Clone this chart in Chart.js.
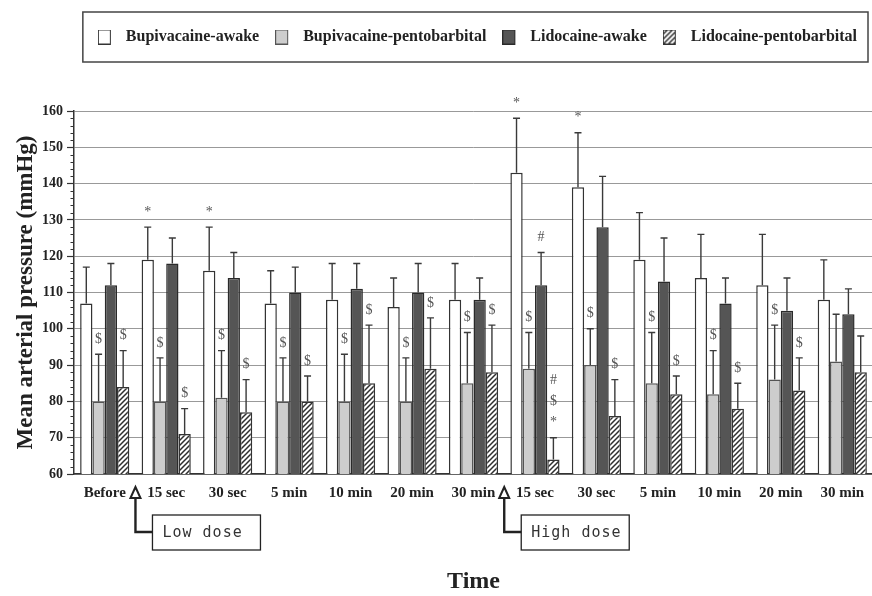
<!DOCTYPE html>
<html>
<head>
<meta charset="utf-8">
<script src="https://cdn.jsdelivr.net/npm/chart.js@4.4.1/dist/chart.umd.min.js"></script>
<style>
  html, body { margin: 0; padding: 0; background: #fff; overflow: hidden; }
  #wrap { width: 872px; height: 596px; overflow: hidden; }
</style>
</head>
<body>
<div id="wrap"><canvas id="mapChart" width="880" height="596"></canvas></div>
<script>
const timeLabels = ["Before", "15 sec", "30 sec", "5 min", "10 min", "20 min", "30 min",
  "15 sec", "30 sec", "5 min", "10 min", "20 min", "30 min"];
const seriesNames = ["Bupivacaine-awake", "Bupivacaine-pentobarbital", "Lidocaine-awake", "Lidocaine-pentobarbital"];

// mean arterial pressure (mmHg) and SD
const bupiAwake = [107, 119, 116, 107, 108, 106, 108, 143, 139, 119, 114, 112, 108];
const bupiAwakeSd = [10, 9, 12, 9, 10, 8, 10, 15, 15, 13, 12, 14, 11];
const bupiPento = [80, 80, 81, 80, 80, 80, 85, 89, 90, 85, 82, 86, 91];
const bupiPentoSd = [13, 12, 13, 12, 13, 12, 14, 10, 10, 14, 12, 15, 13];
const lidoAwake = [112, 118, 114, 110, 111, 110, 108, 112, 128, 113, 107, 105, 104];
const lidoAwakeSd = [6, 7, 7, 7, 7, 8, 6, 9, 14, 12, 7, 9, 7];
const lidoPento = [84, 71, 77, 80, 85, 89, 88, 64, 76, 82, 78, 83, 88];
const lidoPentoSd = [10, 7, 9, 7, 16, 14, 13, 6, 10, 5, 7, 9, 10];

// significance marks, stacked bottom-up
const bupiAwakeMarks = ["", "*", "*", "", "", "", "", "*", "*", "", "", "", ""];
const bupiPentoMarks = ["$", "$", "$", "$", "$", "$", "$", "$", "$", "$", "$", "$", ""];
const lidoAwakeMarks = ["", "", "", "", "", "", "", "#", "", "", "", "", ""];
const lidoPentoMarks = ["$", "$", "$", "$", "$", "$", "$", "*$#", "$", "$", "$", "$", ""];

const doseStart = [1, 7];
const doseNames = ["Low dose", "High dose"];

const serif = '"Liberation Serif", "Times New Roman", serif';
const ink = "#222";

const canvas = document.getElementById("mapChart");
const ctx0 = canvas.getContext("2d");

//diagonal hatch for the last series
const hatch = () => {
  const c = document.createElement("canvas");
  c.width = 5;
  c.height = 5;
  const g = c.getContext("2d");
  g.fillStyle = "#fff";
  g.fillRect(0, 0, 5, 5);
  g.strokeStyle = "#2e2e2e";
  g.lineWidth = 1.5;
  g.beginPath();
  g.moveTo(0, 5); g.lineTo(5, 0);
  g.moveTo(-1, 1); g.lineTo(1, -1);
  g.moveTo(4, 6); g.lineTo(6, 4);
  g.stroke();
  return ctx0.createPattern(c, "repeat");
};

const fills = ["#ffffff", "#cdcdcd", "#555555", hatch()];
const borders = ["#333", "#555", "#2a2a2a", "#333"];

// legend swatch with some empty room on the right
const swatch = (fill, border) => {
  const c = document.createElement("canvas");
  c.width = 20;
  c.height = 15;
  const g = c.getContext("2d");
  g.fillStyle = fill;
  g.fillRect(0.5, 0.5, 12, 14);
  g.strokeStyle = border;
  g.lineWidth = 1;
  g.strokeRect(0.5, 0.5, 12, 14);
  return c;
};
const swatches = fills.map((f, i) => swatch(f, borders[i]));

const means = [bupiAwake, bupiPento, lidoAwake, lidoPento];
const sds = [bupiAwakeSd, bupiPentoSd, lidoAwakeSd, lidoPentoSd];
const marks = [bupiAwakeMarks, bupiPentoMarks, lidoAwakeMarks, lidoPentoMarks];

const legendSpace = {
  id: "legendSpace",
  beforeInit(chart) {
    const fit = chart.legend.fit;
    chart.legend.fit = function () {
      fit.call(this);
      this.height = 98;
    };
  },
  afterDraw(chart) {
    const hb = chart.legend.legendHitBoxes;
    if (!hb || !hb.length) return;
    const last = hb[hb.length - 1];
    const l = hb[0].left - 15;
    const r = last.left + last.width + 11;
    const t = chart.legend.top - 1;
    const { ctx } = chart;
    ctx.save();
    ctx.strokeStyle = "#444";
    ctx.lineWidth = 1.5;
    ctx.strokeRect(l, t, r - l, 50);
    ctx.restore();
  },
};

const errorBars = {
  id: "errorBars",
  afterDatasetsDraw(chart) {
    const { ctx } = chart;
    const y = chart.scales.y;
    ctx.save();
    chart.data.datasets.forEach((ds, i) => {
      chart.getDatasetMeta(i).data.forEach((bar, j) => {
        const top = y.getPixelForValue(ds.data[j] + ds.sd[j]);
        ctx.strokeStyle = "#3a3a3a";
        ctx.lineWidth = 1.4;
        ctx.beginPath();
        ctx.moveTo(bar.x, bar.y);
        ctx.lineTo(bar.x, top);
        ctx.moveTo(bar.x - 3.5, top);
        ctx.lineTo(bar.x + 3.5, top);
        ctx.stroke();

        const m = ds.marks[j];
        ctx.fillStyle = "#555";
        ctx.font = "14px " + serif;
        ctx.textAlign = "center";
        ctx.textBaseline = "middle";
        for (let k = 0; k < m.length; k++) {
          ctx.fillText(m[k], bar.x, top - 15 - k * 21);
        }
      });
    });
    ctx.restore();
  },
};

const minorTicks = {
  id: "minorTicks",
  afterDraw(chart) {
    const { ctx, chartArea } = chart;
    const y = chart.scales.y;
    ctx.save();
    ctx.strokeStyle = "#333";
    ctx.lineWidth = 1;
    ctx.beginPath();
    for (let v = y.min; v <= y.max; v += 2) {
      if (v % 10 === 0) continue;
      const py = Math.round(y.getPixelForValue(v)) + 0.5;
      ctx.moveTo(chartArea.left - 3.5, py);
      ctx.lineTo(chartArea.left, py);
    }
    ctx.stroke();
    ctx.restore();
  },
};

const doseArrows = {
  id: "doseArrows",
  afterDraw(chart) {
    const { ctx, chartArea } = chart;
    const x = chart.scales.x;
    ctx.save();
    doseStart.forEach((idx, k) => {
      const ax = (x.getPixelForTick(idx - 1) + x.getPixelForTick(idx)) / 2;
      const tipY = chartArea.bottom + 13;
      const baseY = tipY + 11;
      const elbowY = baseY + 34;
      const boxL = ax + 17;

      ctx.strokeStyle = "#222";
      ctx.lineWidth = 2.4;
      ctx.beginPath();
      ctx.moveTo(ax, baseY);
      ctx.lineTo(ax, elbowY);
      ctx.lineTo(boxL, elbowY);
      ctx.stroke();

      ctx.fillStyle = "#fff";
      ctx.lineWidth = 2;
      ctx.beginPath();
      ctx.moveTo(ax, tipY);
      ctx.lineTo(ax + 5, baseY);
      ctx.lineTo(ax - 5, baseY);
      ctx.closePath();
      ctx.fill();
      ctx.stroke();

      ctx.lineWidth = 1.3;
      ctx.strokeRect(boxL, elbowY - 17, 108, 35);

      ctx.fillStyle = "#333";
      ctx.font = '15px "DejaVu Sans Mono", monospace';
      ctx.letterSpacing = "1px";
      ctx.textAlign = "left";
      ctx.textBaseline = "middle";
      ctx.fillText(doseNames[k], boxL + 10, elbowY + 1);
      ctx.letterSpacing = "0px";
    });
    ctx.restore();
  },
};

new Chart(canvas, {
  type: "bar",
  data: {
    labels: timeLabels,
    datasets: seriesNames.map((name, i) => ({
      label: name,
      data: means[i],
      sd: sds[i],
      marks: marks[i],
      backgroundColor: fills[i],
      borderColor: borders[i],
      borderWidth: 1.5,
      categoryPercentage: 0.8,
      barPercentage: 1.0,
    })),
  },
  options: {
    responsive: false,
    animation: false,
    events: [],
    layout: { padding: { top: 13, right: 7, left: 0, bottom: 0 } },
    plugins: {
      tooltip: { enabled: false },
      legend: {
        position: "top",
        align: "end",
        labels: {
          usePointStyle: true,
          pointStyleWidth: 20,
          boxHeight: 14,
          padding: 16,
          color: ink,
          font: { family: serif, weight: "bold", size: 16 },
          generateLabels: (chart) =>
            chart.data.datasets.map((ds, i) => ({
              text: ds.label,
              pointStyle: swatches[i],
              datasetIndex: i,
              hidden: false,
              lineWidth: 0,
              fontColor: ink,
            })),
        },
      },
    },
    scales: {
      x: {
        grid: { display: false, drawTicks: false },
        border: { display: true, color: "#333", width: 1.5 },
        ticks: {
          color: ink,
          font: { family: serif, weight: "bold", size: 15 },
          padding: 10,
          maxRotation: 0,
          autoSkip: false,
        },
        title: {
          display: true,
          text: "Time",
          color: ink,
          font: { family: serif, weight: "bold", size: 24 },
          padding: { top: 0, bottom: 0 },
        },
        afterFit: (s) => {
          s.height = 122;
        },
      },
      y: {
        min: 60,
        max: 160,
        ticks: {
          stepSize: 10,
          color: ink,
          font: { family: serif, weight: "bold", size: 14 },
          padding: 4,
        },
        grid: { color: "#999", lineWidth: 1, tickColor: "#333", tickLength: 7, tickWidth: 1.2 },
        border: { color: "#333", width: 1.5 },
        title: {
          display: true,
          text: "Mean arterial pressure (mmHg)",
          color: ink,
          font: { family: serif, weight: "bold", size: 23 },
          padding: { top: 12, bottom: 0 },
        },
        afterFit: (s) => {
          s.width = 74;
        },
      },
    },
  },
  plugins: [legendSpace, errorBars, minorTicks, doseArrows],
});
</script>
</body>
</html>
